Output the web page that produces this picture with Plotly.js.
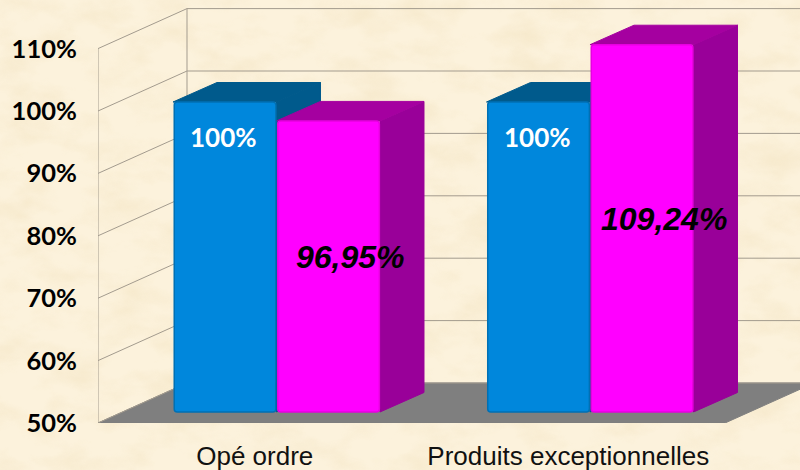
<!DOCTYPE html>
<html>
<head>
<meta charset="utf-8">
<script src="https://cdn.plot.ly/plotly-3.0.1.min.js"></script>
<style>
html,body{margin:0;padding:0;width:800px;height:470px;overflow:hidden;background-color:#fbf0da;}
#tex{position:absolute;left:0;top:0;width:800px;height:470px;}
#chart{position:absolute;left:0;top:0;width:800px;height:470px;}
</style>
</head>
<body>
<svg id="tex" xmlns="http://www.w3.org/2000/svg" width="800" height="470">
<filter id="parch" x="0" y="0" width="100%" height="100%">
<feTurbulence type="fractalNoise" baseFrequency="0.02 0.035" numOctaves="4" seed="7"/>
<feColorMatrix type="matrix" values="0 0 0 0 0.90  0 0 0 0 0.78  0 0 0 0 0.55  2.2 0 0 0 -0.92"/>
</filter>
<rect width="800" height="470" fill="#fcf2dc"/>
<rect width="800" height="470" filter="url(#parch)" opacity="0.6"/>
</svg>
<div id="chart"></div>
<script>
var categories = ["Opé ordre", "Produits exceptionnelles"];
var blueValues = [100, 100];
var magentaValues = [96.95, 109.24];
var blueLabels = ["100%", "100%"];
var magentaLabels = ["96,95%", "109,24%"];
var tickValues = [50, 60, 70, 80, 90, 100, 110];
var tickLabels = ["50%", "60%", "70%", "80%", "90%", "100%", "110%"];

// pixel geometry of the faux-3D box, converted to axis units
var L = 98, T = 5, B = 423, R = 800;
var catPx = 313.5, cat0Px = 254.75, yPx = 6.24, barYPx = 6.2;
var xRange = [(L - cat0Px) / catPx, (R - cat0Px) / catPx];
var yRange = [50, 50 + (B - T) / yPx];
var barRange = [50 - (B - 412) / barYPx, 50 + (412 - T) / barYPx];
var wallDx = 89 / catPx, wallDy = 40 / yPx;
var barDx = 44 / catPx, barDy = 19.5 / barYPx;
var barW = 103.5 / catPx, blueOff = -0.2608, magOff = blueOff + barW;

var traces = [];
function poly(xs, ys, color, yaxis) {
  traces.push({type: "scatter", mode: "lines", x: xs, y: ys, fill: "toself", fillcolor: color,
    line: {color: color, width: 1}, xaxis: "x", yaxis: yaxis, hoverinfo: "skip", showlegend: false});
}
// floor
var xl = xRange[0], xr = 1.5;
poly([xl, xl + wallDx, xr + wallDx, xr, xl], [50, 50 + wallDy, 50 + wallDy, 50, 50], "#7f7f7f", "y");
// grid lines on the walls
tickValues.forEach(function (v) {
  traces.push({type: "scatter", mode: "lines", x: [xl, xl + wallDx, xRange[1]], y: [v, v + wallDy, v + wallDy],
    line: {color: "#a39b8e", width: 1}, hoverinfo: "skip", showlegend: false, xaxis: "x", yaxis: "y"});
});
var topTick = tickValues[tickValues.length - 1];
traces.push({type: "scatter", mode: "lines", x: [xl, xl], y: [50, topTick],
  line: {color: "#a39b8e", width: 1}, hoverinfo: "skip", showlegend: false, xaxis: "x", yaxis: "y"});
traces.push({type: "scatter", mode: "lines", x: [xl + wallDx, xl + wallDx], y: [50 + wallDy, topTick + wallDy],
  line: {color: "#a39b8e", width: 1}, hoverinfo: "skip", showlegend: false, xaxis: "x", yaxis: "y"});

// depth faces (layer y2)
function depth(values, off, topC, sideC) {
  values.forEach(function (v, i) {
    var x0 = i + off, x1 = x0 + barW;
    poly([x1, x1 + barDx, x1 + barDx, x1, x1], [50, 50 + barDy, v + barDy, v, 50], sideC, "y2");
    poly([x0, x0 + barDx, x1 + barDx, x1, x0], [v, v + barDy, v + barDy, v, v], topC, "y2");
  });
}
depth(blueValues, blueOff, "#005a8c", "#005a8c");
depth(magentaValues, magOff, "#a500a0", "#990099");

// front faces (layer y3)
function front(values, off, color, edge) {
  traces.push({type: "bar", x: [0, 1], y: values.map(function (v) { return v - 50; }), base: 50,
    width: barW - 0.006, offset: off + 0.004,
    marker: {color: color, line: {color: edge, width: 1.5}, cornerradius: 3},
    xaxis: "x", yaxis: "y3", hoverinfo: "skip", showlegend: false});
}
front(blueValues, blueOff, "#0087dc", "#0070b4");
front(magentaValues, magOff, "#ff00ff", "#e800e0");

var annotations = [];
blueLabels.forEach(function (t, i) {
  annotations.push({x: i + blueOff + barW / 2 - 0.003, y: blueValues[i] - 5.6, xref: "x", yref: "y3", text: t, showarrow: false,
    font: {family: "Lato", size: 26, color: "#ffffff", weight: 700}});
});
magentaLabels.forEach(function (t, i) {
  var mid = (magentaValues[i] + 50) / 2 + 1.45;
  annotations.push({x: i + magOff + barW / 2 + 22 / catPx, y: mid, xref: "x", yref: "y3", text: "<b><i>" + t + "</i></b>", showarrow: false,
    font: {family: "Liberation Sans", size: 32, color: "#000000"}});
});

var layout = {
  width: 800, height: 470,
  margin: {l: L, r: 800 - R, t: T, b: 470 - B, pad: 0},
  paper_bgcolor: "rgba(0,0,0,0)", plot_bgcolor: "rgba(0,0,0,0)",
  showlegend: false, barmode: "overlay",
  xaxis: {range: xRange, tickvals: [0, 1], ticktext: categories, showgrid: false, zeroline: false, showline: false,
    ticks: "outside", ticklen: 10, tickcolor: "rgba(0,0,0,0)", tickfont: {family: "Liberation Sans", size: 26, color: "#111111"}},
  yaxis: {range: yRange, tickvals: tickValues, ticktext: tickLabels, showgrid: false, zeroline: false, showline: false,
    ticks: "outside", ticklen: 15, tickcolor: "rgba(0,0,0,0)", tickfont: {family: "Lato", size: 25.5, color: "#000000", weight: 700}},
  yaxis2: {range: barRange, overlaying: "y", visible: false},
  yaxis3: {range: barRange, overlaying: "y", visible: false},
  annotations: annotations
};
Plotly.newPlot("chart", traces, layout, {displayModeBar: false, staticPlot: true});
</script>
</body>
</html>
